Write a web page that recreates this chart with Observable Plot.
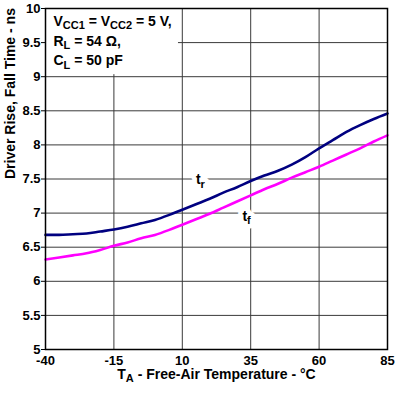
<!DOCTYPE html>
<html>
<head>
<meta charset="utf-8">
<script src="https://cdn.jsdelivr.net/npm/d3@7"></script>
<script src="https://cdn.jsdelivr.net/npm/@observablehq/plot@0.6"></script>
<style>
  html, body { margin: 0; padding: 0; background: white; }
</style>
</head>
<body>
<div id="chart"></div>
<script>
const temps = [-40,-35,-30,-25,-20,-15,-10,-5,0,5,10,15,20,25,30,35,40,45,50,55,60,65,70,75,80,85];
const riseTime = [6.68,6.68,6.69,6.70,6.73,6.76,6.80,6.85,6.90,6.97,7.05,7.13,7.21,7.30,7.38,7.47,7.55,7.62,7.71,7.82,7.95,8.07,8.19,8.29,8.38,8.46];
const fallTime = [6.32,6.35,6.38,6.41,6.46,6.52,6.57,6.63,6.68,6.75,6.83,6.91,6.99,7.08,7.17,7.26,7.35,7.43,7.52,7.60,7.68,7.77,7.86,7.95,8.05,8.14];
const xTicks = [-40,-15,10,35,60,85];
const yTicks = [5,5.5,6,6.5,7,7.5,8,8.5,9,9.5,10];
const curveLabels = [
  {x: 16.6, y: 7.49, text: "t_{r}"},
  {x: 33.5, y: 6.95, text: "t_{f}"}
];
const conditions = [
  {x: -37.1, y: 9.81, text: "V_{CC1} = V_{CC2} = 5 V,"},
  {x: -37.1, y: 9.52, text: "R_{L} = 54 Ω,"},
  {x: -37.1, y: 9.23, text: "C_{L} = 50 pF"}
];
const conditionBox = [{x1: -40, x2: 8.6, y1: 9.03, y2: 10}];
const xLabel = "T_{A} - Free-Air Temperature - °C";
const yLabel = "Driver Rise, Fall Time - ns";

const rise = temps.map((t, i) => ({t, v: riseTime[i]}));
const fall = temps.map((t, i) => ({t, v: fallTime[i]}));

const font = "'Liberation Sans', Arial, sans-serif";
const plot = Plot.plot({
  width: 395,
  height: 396,
  marginLeft: 45,
  marginRight: 8,
  marginTop: 8,
  marginBottom: 47,
  style: {fontFamily: font, fontSize: "13px", fontWeight: "bold", background: "white", color: "black"},
  x: {domain: [-40, 85]},
  y: {domain: [5, 10]},
  marks: [
    Plot.gridX(xTicks, {stroke: "#3a3a3a", strokeOpacity: 1, strokeWidth: 1}),
    Plot.gridY(yTicks, {stroke: "#3a3a3a", strokeOpacity: 1, strokeWidth: 1}),
    Plot.rect(conditionBox, {x1: "x1", x2: "x2", y1: "y1", y2: "y2", fill: "white"}),
    Plot.line(rise, {x: "t", y: "v", stroke: "#000080", strokeWidth: 2.6, curve: "monotone-x"}),
    Plot.line(fall, {x: "t", y: "v", stroke: "#ff00ff", strokeWidth: 2.6, curve: "monotone-x"}),
    // white halo behind the curve labels
    Plot.text(curveLabels, {x: "x", y: "y", text: "text", fontSize: 14, fontWeight: "bold", fill: "white", stroke: "white", strokeWidth: 9, lineAnchor: "middle"}),
    Plot.text(curveLabels, {x: "x", y: "y", text: "text", fontSize: 14, fontWeight: "bold", fill: "black", lineAnchor: "middle"}),
    Plot.text(conditions, {x: "x", y: "y", text: "text", fontSize: 14, fontWeight: "bold", fill: "black", textAnchor: "start", lineAnchor: "middle"}),
    Plot.text([xLabel], {frameAnchor: "bottom", dy: 25, text: d => d, fontSize: 14, fontWeight: "bold", lineAnchor: "middle"}),
    Plot.text([yLabel], {frameAnchor: "left", dx: -35, rotate: -90, text: d => d, fontSize: 14, fontWeight: "bold", lineAnchor: "middle"}),
    Plot.frame({stroke: "black", strokeWidth: 1.5}),
    Plot.axisX(xTicks, {tickSize: 0, tickPadding: 6, label: null, fontSize: 13, fontWeight: "bold", tickFormat: d => String(d)}),
    Plot.axisY(yTicks, {tickSize: 4, tickPadding: 1, label: null, fontSize: 13, fontWeight: "bold", tickFormat: d => String(d)})
  ]
});

// Turn "_{...}" markup into real subscript tspans
const SVGNS = "http://www.w3.org/2000/svg";
plot.querySelectorAll("text").forEach(el => {
  if (el.children.length) return;
  const s = el.textContent;
  if (!s.includes("_{")) return;
  el.textContent = "";
  const parts = s.split(/(_\{[^}]*\})/).filter(p => p);
  let down = false;
  for (const p of parts) {
    const t = document.createElementNS(SVGNS, "tspan");
    if (p.startsWith("_{")) {
      t.textContent = p.slice(2, -1);
      t.setAttribute("font-size", "11");
      if (!down) { t.setAttribute("dy", "3.5"); down = true; }
    } else {
      t.textContent = p;
      if (down) { t.setAttribute("dy", "-3.5"); down = false; }
    }
    el.appendChild(t);
  }
});

document.getElementById("chart").appendChild(plot);
</script>
</body>
</html>
